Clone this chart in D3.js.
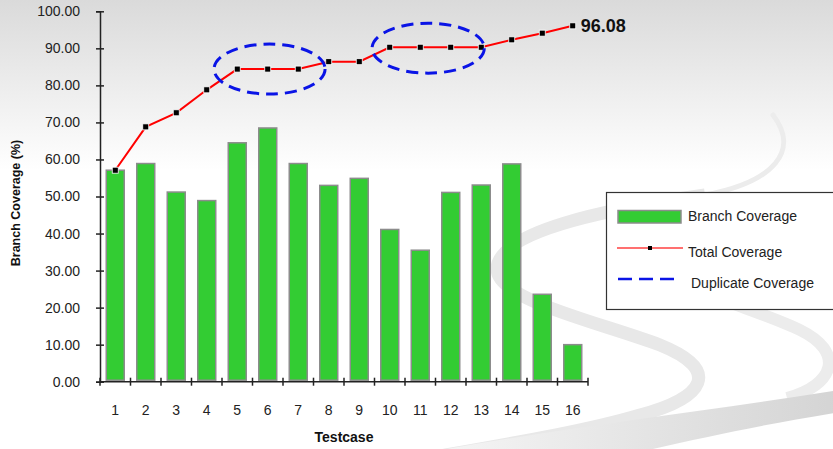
<!DOCTYPE html>
<html>
<head>
<meta charset="utf-8">
<script src="https://cdn.jsdelivr.net/npm/d3@7"></script>
<style>
  html, body { margin: 0; padding: 0; background: #fff; }
  svg { display: block; font-family: "Liberation Sans", Arial, sans-serif; }
</style>
</head>
<body>
<svg id="chart" width="833" height="449"></svg>
<script>
// ---- data ----
const testcases = ["1","2","3","4","5","6","7","8","9","10","11","12","13","14","15","16"];
const branchCoverage = [57.1, 58.9, 51.2, 48.9, 64.5, 68.5, 58.9, 53.0, 54.9, 41.1, 35.5, 51.1, 53.1, 58.8, 23.6, 10.0];
const totalCoverage = [57.1, 68.8, 72.6, 78.8, 84.4, 84.4, 84.4, 86.4, 86.4, 90.3, 90.3, 90.3, 90.3, 92.3, 94.1, 96.08];
const yTicks = [0, 10, 20, 30, 40, 50, 60, 70, 80, 90, 100];
// duplicate-coverage annotations: span in testcase units and level in %
const dupFrom = [4.24, 9.42];
const dupTo = [7.88, 13.1];
const dupLevel = [84.4, 90.05];
const finalLabel = "96.08";

// ---- layout ----
const svg = d3.select("#chart");
const W = 833, H = 449;
const pLeft = 100, pRight = 588, pTop = 11.3, pBottom = 381.7;

const x = d3.scaleBand().domain(testcases).range([pLeft, pRight]).paddingInner(0.41).paddingOuter(0.205);
const xb = d3.scaleBand().domain(testcases).range([pLeft, pRight]);
const y = d3.scaleLinear().domain([0, 100]).range([pBottom, pTop]);
const xc = d => xb(d) + xb.bandwidth() / 2;
// continuous testcase-unit -> pixel
const xu = u => pLeft + (u - 0.5) * xb.bandwidth();

// ---- background ----
const defs = svg.append("defs");
const bg = defs.append("linearGradient").attr("id", "bg").attr("x1", 0).attr("y1", 0).attr("x2", 0).attr("y2", 1);
bg.append("stop").attr("offset", "0%").attr("stop-color", "#dadada");
bg.append("stop").attr("offset", "38%").attr("stop-color", "#ffffff");
bg.append("stop").attr("offset", "100%").attr("stop-color", "#ffffff");
const band = defs.append("linearGradient").attr("id", "band").attr("x1", 0).attr("y1", 0).attr("x2", 1).attr("y2", 0);
band.append("stop").attr("offset", "0%").attr("stop-color", "#f6f6f6");
band.append("stop").attr("offset", "100%").attr("stop-color", "#d4d4d4");

svg.append("rect").attr("width", W).attr("height", H).attr("fill", "url(#bg)");

const sw = svg.append("g").attr("fill", "none");
sw.append("path")
  .attr("d", "M773,115 C800,150 775,182 705,195")
  .attr("stroke", "#ececec").attr("stroke-width", 5).attr("stroke-linecap", "round");
sw.append("path")
  .attr("d", "M705,195 C600,210 500,232 497,268 C495,300 600,322 660,345 C722,370 705,398 640,415 C590,430 520,442 440,456")
  .attr("stroke", "#e8e8e8").attr("stroke-width", 13);
sw.append("path")
  .attr("d", "M845,214 C760,224 680,240 677,265 C675,290 760,310 800,330 C845,352 835,385 787,398")
  .attr("stroke", "#ececec").attr("stroke-width", 12);
sw.append("path")
  .attr("d", "M430,452 C560,428 700,412 840,390 L840,412 C760,425 700,438 640,452 Z")
  .attr("fill", "url(#band)");

// ---- bars ----
svg.append("g").selectAll("rect")
  .data(testcases)
  .join("rect")
  .attr("x", d => x(d))
  .attr("width", x.bandwidth())
  .attr("y", (d, i) => y(branchCoverage[i]))
  .attr("height", (d, i) => y(0) - 1.5 - y(branchCoverage[i]))
  .attr("fill", "#33cc33")
  .attr("stroke", "#8c8c8c")
  .attr("stroke-width", 1.5);

// ---- axes ----
const yAxis = svg.append("g").attr("transform", `translate(${pLeft},0)`)
  .call(d3.axisLeft(y).tickValues(yTicks).tickFormat(d3.format(".2f")).tickSize(4).tickPadding(16));
yAxis.select(".domain").attr("stroke", "#222").attr("stroke-width", 1.5);
yAxis.selectAll(".tick line").attr("x2", 4).attr("x1", -4).attr("stroke", "#222").attr("stroke-width", 1.5);
yAxis.selectAll(".tick text").attr("font-size", 14).attr("fill", "#222").attr("font-family", "Liberation Sans, Arial, sans-serif");

const xAxisG = svg.append("g").attr("transform", `translate(0,${pBottom})`);
xAxisG.append("line").attr("x1", pLeft).attr("x2", pRight).attr("stroke", "#222").attr("stroke-width", 1.5);
xAxisG.selectAll("line.t")
  .data(d3.range(testcases.length + 1))
  .join("line").attr("class", "t")
  .attr("x1", i => pLeft + i * xb.bandwidth()).attr("x2", i => pLeft + i * xb.bandwidth())
  .attr("y1", -4).attr("y2", 4).attr("stroke", "#222").attr("stroke-width", 1.5);
xAxisG.selectAll("text")
  .data(testcases)
  .join("text")
  .attr("x", d => xc(d)).attr("y", 33)
  .attr("text-anchor", "middle").attr("font-size", 14).attr("fill", "#222")
  .text(d => d);

// axis titles
svg.append("text").attr("x", 344).attr("y", 442).attr("text-anchor", "middle")
  .attr("font-size", 14).attr("font-weight", "bold").attr("fill", "#111").text("Testcase");
svg.append("text").attr("transform", "translate(20,203) rotate(-90)").attr("text-anchor", "middle")
  .attr("font-size", 12.5).attr("font-weight", "bold").attr("fill", "#111").text("Branch Coverage (%)");

// ---- total coverage line ----
const line = d3.line().x((d, i) => xc(testcases[i])).y(d => y(d));
svg.append("path").datum(totalCoverage)
  .attr("d", line).attr("fill", "none").attr("stroke", "#ff0000").attr("stroke-width", 2);
svg.append("g").selectAll("rect")
  .data(totalCoverage)
  .join("rect")
  .attr("x", (d, i) => xc(testcases[i]) - 3)
  .attr("y", d => y(d) - 3)
  .attr("width", 6).attr("height", 6)
  .attr("fill", "#000").attr("stroke", "#fff").attr("stroke-width", 0.8);

const last = totalCoverage.length - 1;
svg.append("text")
  .attr("x", xc(testcases[last]) + 8).attr("y", y(totalCoverage[last]))
  .attr("dy", "0.36em")
  .attr("font-size", 18).attr("font-weight", "bold").attr("fill", "#111")
  .text(finalLabel);

// ---- duplicate coverage ellipses ----
svg.append("g").selectAll("ellipse")
  .data(dupFrom)
  .join("ellipse")
  .attr("cx", (d, i) => (xu(dupFrom[i]) + xu(dupTo[i])) / 2)
  .attr("cy", (d, i) => y(dupLevel[i]))
  .attr("rx", (d, i) => (xu(dupTo[i]) - xu(dupFrom[i])) / 2)
  .attr("ry", 25)
  .attr("fill", "none").attr("stroke", "#0a14e6").attr("stroke-width", 3)
  .attr("stroke-dasharray", "12,7");

// ---- legend ----
const lg = svg.append("g");
lg.append("rect").attr("x", 606.5).attr("y", 192.5).attr("width", 240).attr("height", 117)
  .attr("fill", "#fff").attr("stroke", "#333").attr("stroke-width", 1.2);
lg.append("rect").attr("x", 618).attr("y", 210.5).attr("width", 63).attr("height", 12.5)
  .attr("fill", "#33cc33").attr("stroke", "#8c8c8c").attr("stroke-width", 1.5);
lg.append("text").attr("x", 688).attr("y", 221).attr("font-size", 14).attr("fill", "#222").text("Branch Coverage");
lg.append("line").attr("x1", 617).attr("x2", 683).attr("y1", 248).attr("y2", 248)
  .attr("stroke", "#ff4040").attr("stroke-width", 1.5);
lg.append("rect").attr("x", 648).attr("y", 246).attr("width", 4).attr("height", 4).attr("fill", "#000");
lg.append("text").attr("x", 688).attr("y", 257).attr("font-size", 14).attr("fill", "#222").text("Total Coverage");
lg.append("line").attr("x1", 618).attr("x2", 679).attr("y1", 279).attr("y2", 279)
  .attr("stroke", "#0a14e6").attr("stroke-width", 2.5).attr("stroke-dasharray", "14,7");
lg.append("text").attr("x", 691).attr("y", 288).attr("font-size", 14).attr("fill", "#222").text("Duplicate Coverage");
</script>
</body>
</html>
